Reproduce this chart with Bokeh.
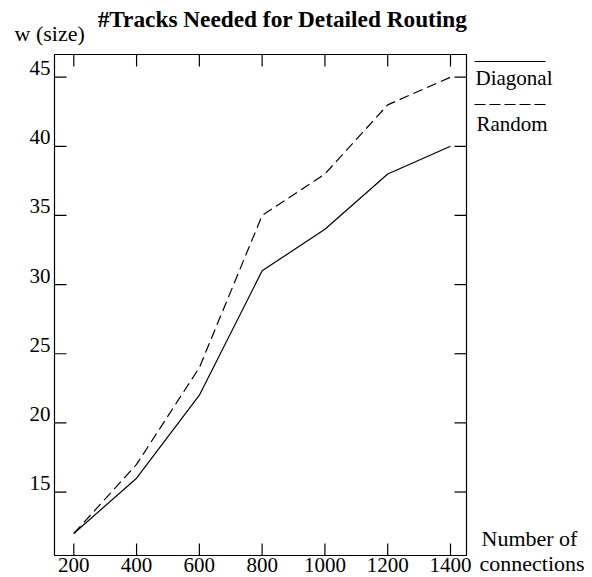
from bokeh.plotting import figure
from bokeh.models import Range1d, ColumnDataSource
from bokeh.core.properties import value
from bokeh.embed import file_html
from bokeh.resources import INLINE

# ---- data ----
connections = [200, 400, 600, 800, 1000, 1200, 1400]
diagonal = [12, 16, 22, 31, 34, 38, 40]
random_ = [12, 17, 24, 35, 38, 43, 45]
x_ticks = [200, 400, 600, 800, 1000, 1200, 1400]
y_ticks = [15, 20, 25, 30, 35, 40, 45]
x_tick_labels = ["200", "400", "600", "800", "1000", "1200", "1400"]
y_tick_labels = ["15", "20", "25", "30", "35", "40", "45"]
series_names = ["Diagonal", "Random"]

# ---- layout constants (figure pixels) ----
W, H = 592, 577
FL, FR, FT, FB = 54, 466, 54, 555        # plot box in figure pixels
X0, X1 = 138.5, 1451.0                    # data extent of the plot box
Y0, Y1 = 10.41, 46.64
SX = (FR - FL) / (X1 - X0)
SY = (FB - FT) / (Y1 - Y0)
TICK = 12
FIX = 7          # svg text baseline correction (pixels)
FONT = value("Liberation Serif")


def dx(fx):
    return X0 + (fx - FL) / SX


def dy(fy):
    return Y1 - (fy - FT) / SY


def ty_(fy):
    # text baseline position, corrected for svg rendering offset
    return dy(fy - FIX)


p = figure(width=W, height=H, output_backend="svg", toolbar_location=None,
           x_range=Range1d(dx(0), dx(W)), y_range=Range1d(dy(H), dy(0)),
           x_axis_type=None, y_axis_type=None, title=None,
           min_border=0, min_border_left=0, min_border_right=0,
           min_border_top=0, min_border_bottom=0)
p.background_fill_color = "white"
p.border_fill_color = "white"
p.outline_line_color = None
p.xgrid.visible = False
p.ygrid.visible = False

# plot box
p.quad(left=[X0], right=[X1], bottom=[Y0], top=[Y1], fill_color=None,
       line_color="black", line_width=1.2)

# inward ticks on all four sides
tx = x_ticks
p.segment(x0=tx, x1=tx, y0=[Y0] * len(tx), y1=[Y0 + TICK / SY] * len(tx),
          line_color="black", line_width=1.2)
p.segment(x0=tx, x1=tx, y0=[Y1] * len(tx), y1=[Y1 - TICK / SY] * len(tx),
          line_color="black", line_width=1.2)
tyk = y_ticks
p.segment(x0=[X0] * len(tyk), x1=[X0 + TICK / SX] * len(tyk), y0=tyk, y1=tyk,
          line_color="black", line_width=1.2)
p.segment(x0=[X1] * len(tyk), x1=[X1 - TICK / SX] * len(tyk), y0=tyk, y1=tyk,
          line_color="black", line_width=1.2)

# series
src = ColumnDataSource(dict(x=connections, d=diagonal, r=random_))
p.line("x", "d", source=src, line_color="black", line_width=1.2)
p.line("x", "r", source=src, line_color="black", line_width=1.2,
       line_dash="10 5")

# tick labels
p.text(x=x_ticks, y=[ty_(571)] * len(x_ticks), text=x_tick_labels,
       text_align="center", text_baseline="alphabetic", text_font=FONT,
       text_font_size="21px", text_color="black")
p.text(x=[dx(50)] * len(y_ticks), y=[v + (2 + FIX) / SY for v in y_ticks],
       text=y_tick_labels, text_align="right", text_baseline="alphabetic",
       text_font=FONT, text_font_size="21px", text_color="black")

# title and axis titles
p.text(x=[dx(282)], y=[ty_(25)], text=["#Tracks Needed for Detailed Routing"],
       text_align="center", text_baseline="alphabetic", text_font=FONT,
       text_font_size="23.3px", text_font_style="bold", text_color="black")
p.text(x=[dx(14)], y=[ty_(40)], text=["w (size)"], text_align="left",
       text_baseline="alphabetic", text_font=FONT, text_font_size="22px",
       text_color="black")
p.text(x=[dx(481), dx(479)], y=[ty_(545), ty_(570)],
       text=["Number of", "connections"], text_align="left",
       text_baseline="alphabetic", text_font=FONT, text_font_size="22px",
       text_color="black")

# legend (sample line above its label)
p.line(x=[dx(474), dx(545)], y=[dy(61), dy(61)], line_color="black",
       line_width=1.2)
p.line(x=[dx(474), dx(545)], y=[dy(104), dy(104)], line_color="black",
       line_width=1.2, line_dash="11 4")
p.text(x=[dx(475), dx(476)], y=[ty_(84), ty_(130)], text=series_names,
       text_align="left", text_baseline="alphabetic", text_font=FONT,
       text_font_size="21px", text_color="black")

open("out.html", "w").write(file_html(p, INLINE))
